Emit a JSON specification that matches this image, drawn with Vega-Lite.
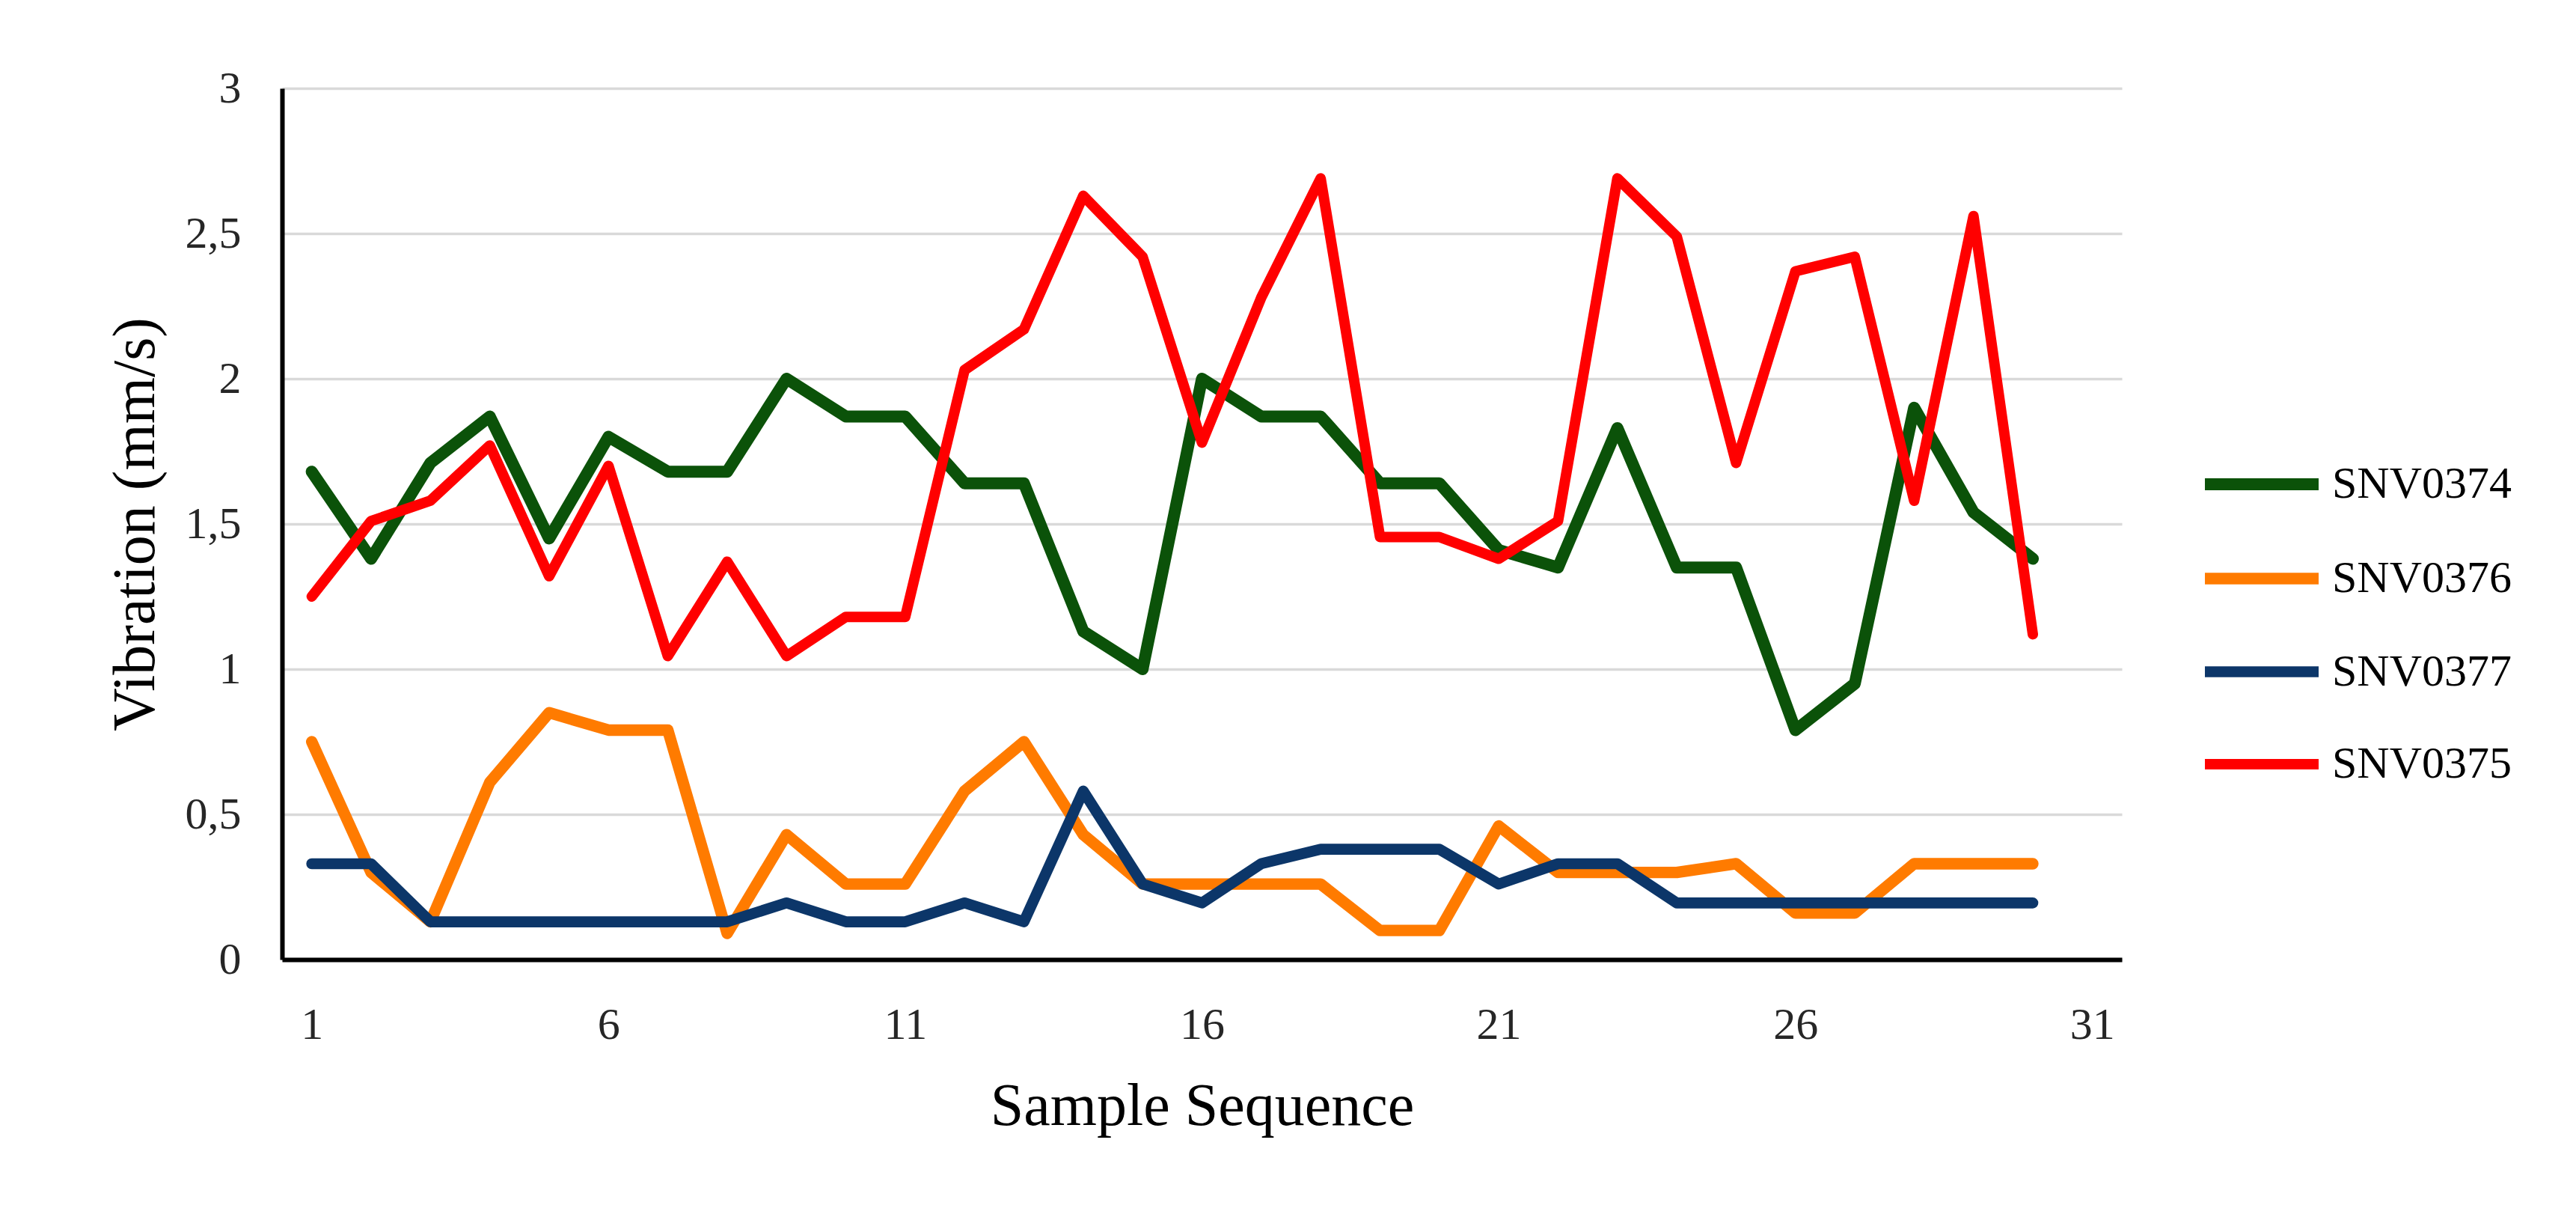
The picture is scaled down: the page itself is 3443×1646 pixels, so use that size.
{
  "$schema": "https://vega.github.io/schema/vega-lite/v6.json",
  "width": 2459,
  "height": 1164,
  "autosize": {"type": "none"},
  "padding": {"left": 377, "top": 118, "right": 607, "bottom": 364},
  "background": "white",
  "config": {"view": {"stroke": null}, "font": "Liberation Serif"},
  "data": {
    "values": [
      {"s": "SNV0374", "x": 1, "v": 1.68}, {"s": "SNV0374", "x": 2, "v": 1.38}, {"s": "SNV0374", "x": 3, "v": 1.71},
      {"s": "SNV0374", "x": 4, "v": 1.87}, {"s": "SNV0374", "x": 5, "v": 1.45}, {"s": "SNV0374", "x": 6, "v": 1.8},
      {"s": "SNV0374", "x": 7, "v": 1.68}, {"s": "SNV0374", "x": 8, "v": 1.68}, {"s": "SNV0374", "x": 9, "v": 2.0},
      {"s": "SNV0374", "x": 10, "v": 1.87}, {"s": "SNV0374", "x": 11, "v": 1.87}, {"s": "SNV0374", "x": 12, "v": 1.64},
      {"s": "SNV0374", "x": 13, "v": 1.64}, {"s": "SNV0374", "x": 14, "v": 1.13}, {"s": "SNV0374", "x": 15, "v": 1.0},
      {"s": "SNV0374", "x": 16, "v": 2.0}, {"s": "SNV0374", "x": 17, "v": 1.87}, {"s": "SNV0374", "x": 18, "v": 1.87},
      {"s": "SNV0374", "x": 19, "v": 1.64}, {"s": "SNV0374", "x": 20, "v": 1.64}, {"s": "SNV0374", "x": 21, "v": 1.41},
      {"s": "SNV0374", "x": 22, "v": 1.35}, {"s": "SNV0374", "x": 23, "v": 1.83}, {"s": "SNV0374", "x": 24, "v": 1.35},
      {"s": "SNV0374", "x": 25, "v": 1.35}, {"s": "SNV0374", "x": 26, "v": 0.79}, {"s": "SNV0374", "x": 27, "v": 0.95},
      {"s": "SNV0374", "x": 28, "v": 1.9}, {"s": "SNV0374", "x": 29, "v": 1.54}, {"s": "SNV0374", "x": 30, "v": 1.38},

      {"s": "SNV0376", "x": 1, "v": 0.75}, {"s": "SNV0376", "x": 2, "v": 0.3}, {"s": "SNV0376", "x": 3, "v": 0.13},
      {"s": "SNV0376", "x": 4, "v": 0.61}, {"s": "SNV0376", "x": 5, "v": 0.85}, {"s": "SNV0376", "x": 6, "v": 0.79},
      {"s": "SNV0376", "x": 7, "v": 0.79}, {"s": "SNV0376", "x": 8, "v": 0.09}, {"s": "SNV0376", "x": 9, "v": 0.43},
      {"s": "SNV0376", "x": 10, "v": 0.26}, {"s": "SNV0376", "x": 11, "v": 0.26}, {"s": "SNV0376", "x": 12, "v": 0.58},
      {"s": "SNV0376", "x": 13, "v": 0.75}, {"s": "SNV0376", "x": 14, "v": 0.43}, {"s": "SNV0376", "x": 15, "v": 0.26},
      {"s": "SNV0376", "x": 16, "v": 0.26}, {"s": "SNV0376", "x": 17, "v": 0.26}, {"s": "SNV0376", "x": 18, "v": 0.26},
      {"s": "SNV0376", "x": 19, "v": 0.1}, {"s": "SNV0376", "x": 20, "v": 0.1}, {"s": "SNV0376", "x": 21, "v": 0.46},
      {"s": "SNV0376", "x": 22, "v": 0.3}, {"s": "SNV0376", "x": 23, "v": 0.3}, {"s": "SNV0376", "x": 24, "v": 0.3},
      {"s": "SNV0376", "x": 25, "v": 0.33}, {"s": "SNV0376", "x": 26, "v": 0.16}, {"s": "SNV0376", "x": 27, "v": 0.16},
      {"s": "SNV0376", "x": 28, "v": 0.33}, {"s": "SNV0376", "x": 29, "v": 0.33}, {"s": "SNV0376", "x": 30, "v": 0.33},

      {"s": "SNV0377", "x": 1, "v": 0.33}, {"s": "SNV0377", "x": 2, "v": 0.33}, {"s": "SNV0377", "x": 3, "v": 0.13},
      {"s": "SNV0377", "x": 4, "v": 0.13}, {"s": "SNV0377", "x": 5, "v": 0.13}, {"s": "SNV0377", "x": 6, "v": 0.13},
      {"s": "SNV0377", "x": 7, "v": 0.13}, {"s": "SNV0377", "x": 8, "v": 0.13}, {"s": "SNV0377", "x": 9, "v": 0.195},
      {"s": "SNV0377", "x": 10, "v": 0.13}, {"s": "SNV0377", "x": 11, "v": 0.13}, {"s": "SNV0377", "x": 12, "v": 0.195},
      {"s": "SNV0377", "x": 13, "v": 0.13}, {"s": "SNV0377", "x": 14, "v": 0.58}, {"s": "SNV0377", "x": 15, "v": 0.26},
      {"s": "SNV0377", "x": 16, "v": 0.195}, {"s": "SNV0377", "x": 17, "v": 0.33}, {"s": "SNV0377", "x": 18, "v": 0.38},
      {"s": "SNV0377", "x": 19, "v": 0.38}, {"s": "SNV0377", "x": 20, "v": 0.38}, {"s": "SNV0377", "x": 21, "v": 0.26},
      {"s": "SNV0377", "x": 22, "v": 0.33}, {"s": "SNV0377", "x": 23, "v": 0.33}, {"s": "SNV0377", "x": 24, "v": 0.195},
      {"s": "SNV0377", "x": 25, "v": 0.195}, {"s": "SNV0377", "x": 26, "v": 0.195}, {"s": "SNV0377", "x": 27, "v": 0.195},
      {"s": "SNV0377", "x": 28, "v": 0.195}, {"s": "SNV0377", "x": 29, "v": 0.195}, {"s": "SNV0377", "x": 30, "v": 0.195},

      {"s": "SNV0375", "x": 1, "v": 1.25}, {"s": "SNV0375", "x": 2, "v": 1.51}, {"s": "SNV0375", "x": 3, "v": 1.58},
      {"s": "SNV0375", "x": 4, "v": 1.77}, {"s": "SNV0375", "x": 5, "v": 1.32}, {"s": "SNV0375", "x": 6, "v": 1.7},
      {"s": "SNV0375", "x": 7, "v": 1.045}, {"s": "SNV0375", "x": 8, "v": 1.37}, {"s": "SNV0375", "x": 9, "v": 1.045},
      {"s": "SNV0375", "x": 10, "v": 1.18}, {"s": "SNV0375", "x": 11, "v": 1.18}, {"s": "SNV0375", "x": 12, "v": 2.03},
      {"s": "SNV0375", "x": 13, "v": 2.17}, {"s": "SNV0375", "x": 14, "v": 2.63}, {"s": "SNV0375", "x": 15, "v": 2.42},
      {"s": "SNV0375", "x": 16, "v": 1.78}, {"s": "SNV0375", "x": 17, "v": 2.28}, {"s": "SNV0375", "x": 18, "v": 2.69},
      {"s": "SNV0375", "x": 19, "v": 1.455}, {"s": "SNV0375", "x": 20, "v": 1.455}, {"s": "SNV0375", "x": 21, "v": 1.38},
      {"s": "SNV0375", "x": 22, "v": 1.51}, {"s": "SNV0375", "x": 23, "v": 2.69}, {"s": "SNV0375", "x": 24, "v": 2.49},
      {"s": "SNV0375", "x": 25, "v": 1.71}, {"s": "SNV0375", "x": 26, "v": 2.37}, {"s": "SNV0375", "x": 27, "v": 2.42},
      {"s": "SNV0375", "x": 28, "v": 1.58}, {"s": "SNV0375", "x": 29, "v": 2.56}, {"s": "SNV0375", "x": 30, "v": 1.12}
    ]
  },
  "mark": {"type": "line", "strokeCap": "round", "strokeJoin": "round"},
  "encoding": {
    "x": {
      "field": "x",
      "type": "quantitative",
      "scale": {"domain": [0.5, 31.5], "nice": false, "zero": false},
      "axis": {
        "values": [1, 6, 11, 16, 21, 26, 31],
        "title": "Sample Sequence",
        "grid": false,
        "ticks": false,
        "domainColor": "black",
        "domainWidth": 6,
        "labelFontSize": 60,
        "labelColor": "#262626",
        "labelPadding": 58,
        "labelFlush": false,
        "labelOverlap": false,
        "titleFontSize": 80,
        "titleFontWeight": "normal",
        "titleColor": "black",
        "titlePadding": 40
      }
    },
    "y": {
      "field": "v",
      "type": "quantitative",
      "scale": {"domain": [0, 3], "nice": false},
      "axis": {
        "values": [0, 0.5, 1, 1.5, 2, 2.5, 3],
        "labelExpr": "replace(format(datum.value, '~g'), '.', ',')",
        "title": "Vibration (mm/s)",
        "grid": true,
        "gridColor": "#d9d9d9",
        "gridWidth": 3.5,
        "ticks": false,
        "domainColor": "black",
        "domainWidth": 6,
        "labelFontSize": 60,
        "labelColor": "#262626",
        "labelPadding": 55,
        "labelFlush": false,
        "labelOverlap": false,
        "titleFontSize": 80,
        "titleFontWeight": "normal",
        "titleColor": "black",
        "titlePadding": 25
      }
    },
    "strokeWidth": {
      "field": "s",
      "type": "nominal",
      "scale": {
        "domain": ["SNV0374", "SNV0376", "SNV0377", "SNV0375"],
        "range": [16, 14, 14, 14]
      },
      "legend": null
    },
    "color": {
      "field": "s",
      "type": "nominal",
      "sort": ["SNV0374", "SNV0376", "SNV0377", "SNV0375"],
      "scale": {
        "domain": ["SNV0374", "SNV0376", "SNV0377", "SNV0375"],
        "range": ["#0b5209", "#ff7b00", "#0c3669", "#ff0000"]
      },
      "legend": {
        "title": null,
        "orient": "none",
        "legendX": 2562,
        "legendY": 445,
        "symbolType": "stroke",
        "symbolSize": 23104,
        "symbolStrokeWidth": 14,
        "labelFontSize": 60,
        "labelColor": "black",
        "labelOffset": 10,
        "labelLimit": 0,
        "rowPadding": 10
      }
    }
  }
}
